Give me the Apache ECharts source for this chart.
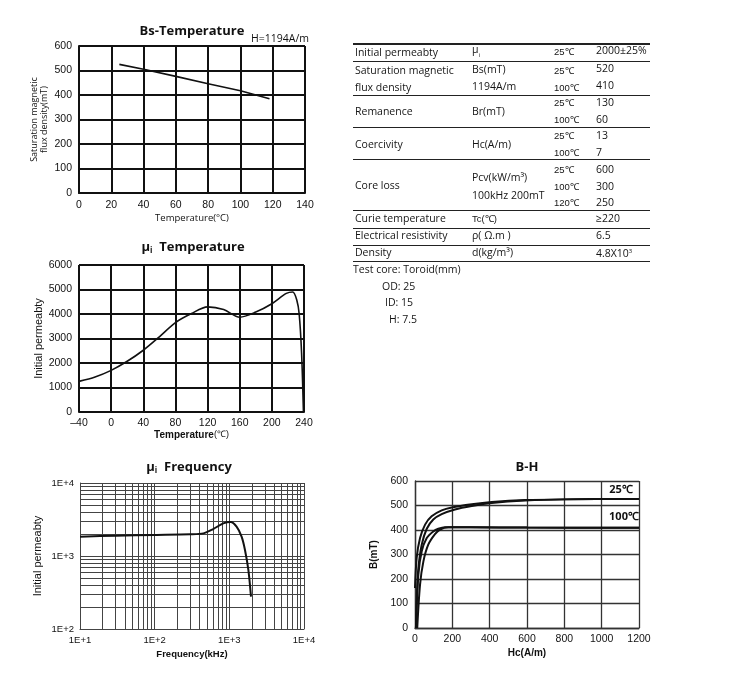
<!DOCTYPE html>
<html><head><meta charset="utf-8">
<script src="https://cdn.jsdelivr.net/npm/echarts@6/dist/echarts.min.js"></script>
<style>
html,body{margin:0;padding:0;background:#fff;}
#chart{position:absolute;left:0;top:0;width:740px;height:688px;}
#table{position:absolute;left:0;top:0;width:740px;height:688px;pointer-events:none;font-family:"Open Sans",sans-serif;color:#151515;}
.t{position:absolute;white-space:nowrap;font-size:10.5px;line-height:14px;transform:translateY(-50%);}
.s{font-size:9.5px;font-family:"Liberation Sans",sans-serif;}
.ln{position:absolute;left:353px;width:297px;background:#222;}
</style></head>
<body><div id="chart"></div><div id="table"></div>
<script>
// ---------- data ----------
const bsTemp = [25, 40, 60, 80, 100, 118];
const bsValue = [525, 505, 476, 446, 417, 385];

const muTemp = [-40, -20, 0, 20, 40, 60, 80, 100, 120, 140, 160, 180, 200, 218, 226, 231, 234, 237, 239.3];
const muValue = [1250, 1430, 1700, 2070, 2520, 3070, 3650, 4020, 4290, 4180, 3870, 4080, 4420, 4840, 4900, 4570, 4000, 2400, 0];

const freqKHz = [10, 30, 100, 300, 450, 600, 830, 1040, 1250, 1460, 1620, 1800, 1950];
const freqMu = [1840, 1900, 1940, 1980, 2040, 2320, 2800, 2920, 2520, 1840, 1210, 640, 277];
const freqMinorX = [20,30,40,50,60,70,80,90,200,300,400,500,600,700,800,900,2000,3000,4000,5000,6000,7000,8000,9000];
const freqMinorY = [200,300,400,500,600,700,800,900,2000,3000,4000,5000,6000,7000,8000,9000];

const bh25aH = [0, 9, 27, 54, 89, 143, 197, 304, 411, 590, 800, 1200];
const bh25aB = [163, 286, 367, 422, 456, 480, 492, 505, 514, 522, 525, 527];
const bh25bH = [5, 11, 18, 36, 63, 98, 143, 214, 304, 411, 590, 800, 1200];
const bh25bB = [0, 150, 245, 340, 405, 443, 465, 484, 498, 510, 520, 525, 527];
const bh100aH = [5, 18, 36, 63, 98, 125, 161, 300, 600, 1200];
const bh100aB = [0, 218, 313, 367, 394, 405, 411, 411, 410, 409];
const bh100bH = [12, 27, 45, 71, 107, 134, 179, 300, 600, 1200];
const bh100bB = [0, 177, 272, 340, 383, 402, 411, 411, 410, 409];

// table text
const propNames = [['Initial permeabty'], ['Saturation magnetic', 'flux density'], ['Remanence'], ['Coercivity'], ['Core loss'], ['Curie temperature'], ['Electrical resistivity'], ['Density']];
const propSymbols = [['μ<sub style="font-size:6px">i</sub>'], ['Bs(mT)', '1194A/m'], ['Br(mT)'], ['Hc(A/m)'], ['Pcv(kW/m³)', '100kHz 200mT'], ['<span class="s">Tc(℃)</span>'], ['ρ( Ω.m )'], ['d(kg/m³)']];
const propTemps = [['25℃'], ['25℃', '100℃'], ['25℃', '100℃'], ['25℃', '100℃'], ['25℃', '100℃', '120℃'], [], [], []];
const propValues = [['2000±25%'], ['520', '410'], ['130', '60'], ['13', '7'], ['600', '300', '250'], ['≥220'], ['6.5'], ['4.8X10<sup style="font-size:6px">3</sup>']];
const testCore = ['Test core: Toroid(mm)', 'OD:  25', 'ID:  15', 'H:  7.5'];

// ---------- layout (positions only) ----------
const rowNameY = [[52], [70, 87], [111], [144], [185], [218], [235], [252]];
const rowSymY = [[52], [69, 86], [111], [144], [177, 195], [218], [235], [252]];
const rowTempY = [[52], [71, 88], [103, 120], [136, 153], [170, 187, 203], [], [], []];
const rowValY = [[50], [68, 85], [102, 119], [135, 152], [169, 186, 202], [218], [235], [252]];
const lineY = [[43, 2], [61, 1.3], [94.5, 1.3], [126.5, 1.3], [158.5, 1.3], [210, 1.3], [228, 1.3], [244.5, 1.3], [261, 1.3]];
const testX = [353, 382, 385, 389];
const testY = [269, 286, 302, 319];

const tbl = document.getElementById('table');
function addText(txt, x, y, cls) {
  const d = document.createElement('div');
  d.className = 't' + (cls ? ' ' + cls : '');
  d.style.left = x + 'px'; d.style.top = y + 'px';
  d.innerHTML = txt; tbl.appendChild(d);
}
lineY.forEach(([y, w]) => {
  const d = document.createElement('div'); d.className = 'ln';
  d.style.top = y + 'px'; d.style.height = w + 'px'; tbl.appendChild(d);
});
propNames.forEach((arr, i) => arr.forEach((t, j) => addText(t, 355, rowNameY[i][j])));
propSymbols.forEach((arr, i) => arr.forEach((t, j) => addText(t, 472, rowSymY[i][j])));
propTemps.forEach((arr, i) => arr.forEach((t, j) => addText(t, 554, rowTempY[i][j], 's')));
propValues.forEach((arr, i) => arr.forEach((t, j) => addText(t, 596, rowValY[i][j])));
testCore.forEach((t, i) => addText(t, testX[i], testY[i]));

// ---------- chart ----------
const zip = (a, b) => a.map((v, i) => [v, b[i]]);
const chart = echarts.init(document.getElementById('chart'));
const plain = v => String(v);
const lbl = { fontFamily: 'Liberation Sans', fontSize: 10.5, color: '#111', formatter: plain };
const dark = { color: '#111', width: 2 };
const grey = { color: '#444', width: 1 };
const mid = { color: '#333', width: 1.3 };
function txt(text, x, y, size, weight, extra) {
  return { type: 'text', x, y, z: 100, style: Object.assign({ text, fontSize: size, fontWeight: weight || 'normal', fontFamily: 'Open Sans', fill: '#111', align: 'center', verticalAlign: 'middle', textAlign: 'center', textVerticalAlign: 'middle' }, extra || {}) };
}
const subRich = {
  m: { fontSize: 13, fontWeight: 'bold', fontFamily: 'Open Sans', fill: '#111', lineHeight: 16 },
  s: { fontSize: 8, fontWeight: 'bold', fontFamily: 'Open Sans', fill: '#111', lineHeight: 16, padding: [7, 0, 0, 0] }
};
const bhLine = { color: '#111', width: 2 };
const option = {
  animation: false,
  grid: [
    { left: 79, top: 46, width: 226, height: 147 },
    { left: 79, top: 265, width: 225, height: 147 },
    { left: 80, top: 483, width: 224, height: 146 },
    { left: 415, top: 481, width: 224, height: 147 }
  ],
  xAxis: [
    { gridIndex: 0, type: 'value', min: 0, max: 140, interval: 20, axisLine: { lineStyle: dark }, axisTick: { show: false },
      axisLabel: Object.assign({}, lbl, { margin: 7 }), splitLine: { lineStyle: dark },
      name: 'Temperature(°C)', nameLocation: 'middle', nameGap: 20, nameTextStyle: { fontFamily: 'Open Sans', fontSize: 9.5, color: '#111' } },
    { gridIndex: 1, type: 'value', min: -40, max: 240, interval: 40, axisLine: { lineStyle: dark }, axisTick: { show: false },
      axisLabel: Object.assign({}, lbl, { margin: 6, formatter: v => v < 0 ? '–' + (-v) : String(v) }), splitLine: { lineStyle: dark },
      name: '{b|Temperature}{n|(℃)}', nameLocation: 'middle', nameGap: 18,
      nameTextStyle: { rich: { b: { fontFamily: 'Liberation Sans', fontWeight: 'bold', fontSize: 10, color: '#111' }, n: { fontFamily: 'Liberation Sans', fontSize: 9, color: '#111' } } } },
    { gridIndex: 2, type: 'log', logBase: 10, min: 10, max: 10000, axisLine: { lineStyle: grey }, axisTick: { show: false },
      axisLabel: Object.assign({}, lbl, { margin: 6, fontSize: 9.5, formatter: v => '1E+' + Math.round(Math.log10(v)) }), splitLine: { lineStyle: grey },
      name: 'Frequency(kHz)', nameLocation: 'middle', nameGap: 20, nameTextStyle: { fontFamily: 'Liberation Sans', fontWeight: 'bold', fontSize: 9.5, color: '#111' } },
    { gridIndex: 3, type: 'value', min: 0, max: 1200, interval: 200, axisLine: { lineStyle: mid }, axisTick: { show: false },
      axisLabel: Object.assign({}, lbl, { margin: 6 }), splitLine: { lineStyle: mid },
      name: 'Hc(A/m)', nameLocation: 'middle', nameGap: 20, nameTextStyle: { fontFamily: 'Liberation Sans', fontWeight: 'bold', fontSize: 10, color: '#111' } }
  ],
  yAxis: [
    { gridIndex: 0, type: 'value', min: 0, max: 600, interval: 100, axisLine: { show: true, lineStyle: dark }, axisTick: { show: false },
      axisLabel: Object.assign({}, lbl, { margin: 7 }), splitLine: { lineStyle: dark },
      name: 'Saturation magnetic\nflux density(mT)', nameLocation: 'middle', nameRotate: 90, nameGap: 30,
      nameTextStyle: { fontFamily: 'Open Sans', fontSize: 9, lineHeight: 10, color: '#111' } },
    { gridIndex: 1, type: 'value', min: 0, max: 6000, interval: 1000, axisLine: { show: true, lineStyle: dark }, axisTick: { show: false },
      axisLabel: Object.assign({}, lbl, { margin: 7 }), splitLine: { lineStyle: dark },
      name: 'Initial permeabty', nameLocation: 'middle', nameRotate: 90, nameGap: 35,
      nameTextStyle: { fontFamily: 'Liberation Sans', fontSize: 11, color: '#111' } },
    { gridIndex: 2, type: 'log', logBase: 10, min: 100, max: 10000, axisLine: { show: true, lineStyle: grey }, axisTick: { show: false },
      axisLabel: Object.assign({}, lbl, { margin: 6, fontSize: 9.5, formatter: v => '1E+' + Math.round(Math.log10(v)) }), splitLine: { lineStyle: grey },
      name: 'Initial permeabty', nameLocation: 'middle', nameRotate: 90, nameGap: 37,
      nameTextStyle: { fontFamily: 'Liberation Sans', fontSize: 11, color: '#111' } },
    { gridIndex: 3, type: 'value', min: 0, max: 600, interval: 100, axisLine: { show: true, lineStyle: mid }, axisTick: { show: false },
      axisLabel: Object.assign({}, lbl, { margin: 7 }), splitLine: { lineStyle: mid },
      name: 'B(mT)', nameLocation: 'middle', nameRotate: 90, nameGap: 36,
      nameTextStyle: { fontFamily: 'Liberation Sans', fontWeight: 'bold', fontSize: 10, color: '#111' } }
  ],
  series: [
    { type: 'line', xAxisIndex: 0, yAxisIndex: 0, data: zip(bsTemp, bsValue), showSymbol: false, lineStyle: { color: '#111', width: 1.6 }, z: 10 },
    { type: 'line', xAxisIndex: 1, yAxisIndex: 1, data: zip(muTemp, muValue), smooth: 0.3, showSymbol: false, lineStyle: { color: '#111', width: 1.6 }, z: 10 },
    { type: 'line', xAxisIndex: 2, yAxisIndex: 2, data: zip(freqKHz, freqMu), smooth: 0.3, showSymbol: false, lineStyle: { color: '#111', width: 2 }, z: 10,
      markLine: { silent: true, symbol: ['none', 'none'], label: { show: false }, lineStyle: { color: '#444', width: 1, type: 'solid' }, z: 1,
        data: freqMinorX.map(v => ({ xAxis: v })).concat(freqMinorY.map(v => ({ yAxis: v }))) } },
    { type: 'line', xAxisIndex: 3, yAxisIndex: 3, data: zip(bh25aH, bh25aB), smooth: 0.3, showSymbol: false, lineStyle: bhLine, z: 10 },
    { type: 'line', xAxisIndex: 3, yAxisIndex: 3, data: zip(bh25bH, bh25bB), smooth: 0.3, showSymbol: false, lineStyle: bhLine, z: 10 },
    { type: 'line', xAxisIndex: 3, yAxisIndex: 3, data: zip(bh100aH, bh100aB), smooth: 0.3, showSymbol: false, lineStyle: bhLine, z: 10 },
    { type: 'line', xAxisIndex: 3, yAxisIndex: 3, data: zip(bh100bH, bh100bB), smooth: 0.3, showSymbol: false, lineStyle: bhLine, z: 10 }
  ],
  graphic: [
    txt('Bs-Temperature', 192, 31, 13, 'bold'),
    txt('H=1194A/m', 280, 39, 10.5, 'normal'),
    { type: 'text', x: 193, y: 247, z: 100, style: { text: '{m|μ}{s|i}{m|  Temperature}', rich: subRich, align: 'center', verticalAlign: 'middle', textAlign: 'center', textVerticalAlign: 'middle' } },
    { type: 'text', x: 189, y: 467, z: 100, style: { text: '{m|μ}{s|i}{m|  Frequency}', rich: subRich, align: 'center', verticalAlign: 'middle', textAlign: 'center', textVerticalAlign: 'middle' } },
    txt('B-H', 527, 467, 13, 'bold'),
    txt('25℃', 621, 490, 11, 'bold'),
    txt('100℃', 624, 517, 11, 'bold')
  ]
};
chart.setOption(option);
</script></body></html>
